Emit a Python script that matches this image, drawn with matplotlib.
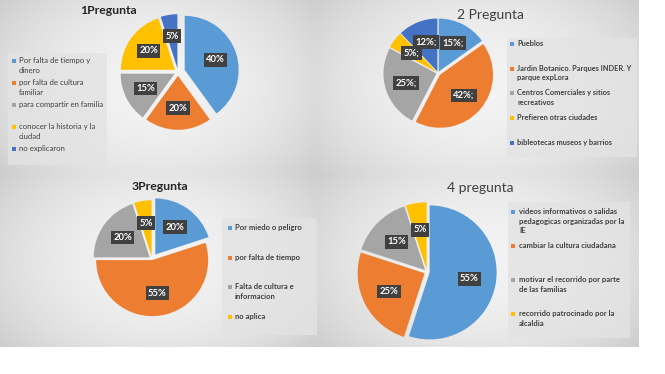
import matplotlib.pyplot as plt
import numpy as np
from matplotlib.colors import LinearSegmentedColormap

plt.rcParams['font.family'] = ['Lato', 'DejaVu Sans']

W, H = 665, 374

colors = ['#5B9BD5', '#ED7D31', '#A5A5A5', '#FFC000', '#4472C4']

# --- data ---
q1_title = "1Pregunta"
q1_labels = ["Por falta de tiempo y\ndinero", "por falta de cultura\nfamiliar",
             "para compartir en familia", "conocer la historia y la\nciudad",
             "no explicaron"]
q1_values = [40, 20, 15, 20, 5]
q1_text = ["40%", "20%", "15%", "20%", "5%"]

q2_title = "2 Pregunta"
q2_labels = ["Pueblos", "Jardin Botanico. Parques INDER. Y\nparque expLora",
             "Centros Comerciales y sitios\nrecreativos", "Prefieren otras ciudades",
             "bibleotecas museos y barrios"]
q2_values = [15, 42, 25, 5, 12]
q2_text = ["15%;", "42%;", "25%;", "5%;", "12%;"]

q3_title = "3Pregunta"
q3_labels = ["Por miedo o peligro", "por falta de tiempo",
             "Falta de cultura e\ninformacion", "no aplica"]
q3_values = [20, 55, 20, 5]
q3_text = ["20%", "55%", "20%", "5%"]

q4_title = "4 pregunta"
q4_labels = ["videos informativos o salidas\npedagogicas organizadas por la\nIE",
             "cambiar la cultura ciudadana",
             "motivar el recorrido por parte\nde las familias",
             "recorrido patrocinado por la\nalcaldia"]
q4_values = [55, 25, 15, 5]
q4_text = ["55%", "25%", "15%", "5%"]


def rect(x0, y0, x1, y1):
    # pixel box (origin top-left) -> figure fraction
    return [x0 / W, 1 - y1 / H, (x1 - x0) / W, (y1 - y0) / H]


bg_cmap = LinearSegmentedColormap.from_list('bg', ['#c9c9c9', '#f3f3f3'])


def panel(fig, box):
    ax = fig.add_axes(rect(*box))
    yy, xx = np.mgrid[-1:1:60j, -1:1:120j]
    ax.imshow(1 - 0.55 * (xx ** 2 + 0.6 * yy ** 2), cmap=bg_cmap, vmin=0, vmax=1,
              aspect='auto', extent=[0, 1, 0, 1], interpolation='bilinear')
    ax.set_axis_off()


def pie(fig, cx, cy, r, values, texts, explode, fs=6.8):
    pad = 1.3
    ax = fig.add_axes(rect(cx - pad * r, cy - pad * r, cx + pad * r, cy + pad * r))
    _, lbls = ax.pie(values, colors=colors[:len(values)], startangle=90,
                     counterclock=False, explode=explode, labels=texts,
                     labeldistance=0.6,
                     textprops=dict(color='white', fontsize=fs, fontweight='bold'))
    for t in lbls:
        t.set_ha('center')
        t.set_va('center')
        t.set_bbox(dict(boxstyle='square,pad=0.25', fc='#404040', ec='none'))
    ax.set_xlim(-pad, pad)
    ax.set_ylim(-pad, pad)
    ax.set_aspect('equal')
    ax.set_axis_off()


def legend(fig, box, labels, mx, tx, y0, step, fs=5.5, bold=False):
    ax = fig.add_axes([0, 0, 1, 1], facecolor='none')
    ax.set_xlim(0, W)
    ax.set_ylim(H, 0)
    ax.set_axis_off()
    x0, ya, x1, yb = box
    ax.add_patch(plt.Rectangle((x0, ya), x1 - x0, yb - ya, fc='#e3e3e3', ec='none', alpha=0.8))
    for i, lab in enumerate(labels):
        y = y0 + i * step
        ax.scatter([mx], [y], marker='s', s=7, color=colors[i], linewidths=0)
        ax.text(tx, y - 4, lab, fontsize=fs, va='top', ha='left', color='#404040',
                fontweight='bold' if bold else 'normal', linespacing=1.45)


fig = plt.figure(figsize=(W / 100, H / 100), dpi=100)
fig.patch.set_facecolor('white')

panel(fig, (0, 0, 315, 173))
panel(fig, (315, 0, 639, 173))
panel(fig, (0, 173, 318, 347))
panel(fig, (318, 173, 639, 347))

# panel 1
fig.text(108 / W, 1 - 11 / H, q1_title, ha='center', va='center', fontsize=8.8, fontweight='bold', color='#262626')
pie(fig, 178, 72, 54, q1_values, q1_text, [0.13, 0.07, 0.07, 0.07, 0.07])
legend(fig, (8, 53, 107, 165), q1_labels, 14, 19, 61, 22, fs=5.6)

# panel 2
fig.text(490 / W, 1 - 15 / H, q2_title, ha='center', va='center', fontsize=10, color='#404040')
pie(fig, 438, 73, 53, q2_values, q2_text, [0.03, 0.05, 0.03, 0.03, 0.03])
legend(fig, (507, 38, 637, 157), q2_labels, 512, 517, 44, 24.7, fs=5.3, bold=True)

# panel 3
fig.text(160 / W, 1 - 187 / H, q3_title, ha='center', va='center', fontsize=8.8, fontweight='bold', color='#262626')
pie(fig, 152, 259, 56, q3_values, q3_text, [0.1, 0.02, 0.05, 0.05])
legend(fig, (222, 218, 317, 335), q3_labels, 230, 235, 228, 29.7, fs=5.5, bold=True)

# panel 4
fig.text(480 / W, 1 - 188 / H, q4_title, ha='center', va='center', fontsize=10, color='#404040')
pie(fig, 427, 272, 67, q4_values, q4_text, [0.04, 0.04, 0.04, 0.04])
legend(fig, (508, 202, 630, 338), q4_labels, 513, 519, 212, 34, fs=5.5, bold=True)

fig.savefig('out.png', dpi=100)
